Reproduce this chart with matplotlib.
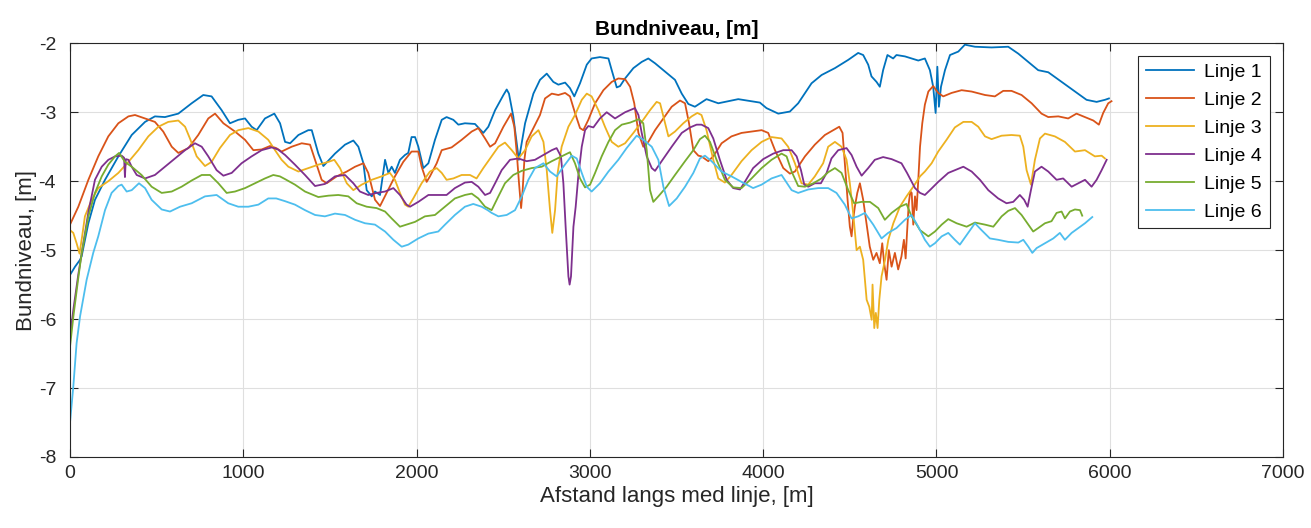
import matplotlib
matplotlib.use("Agg")
import matplotlib.pyplot as plt

plt.rcParams['font.family'] = ['Liberation Sans', 'DejaVu Sans']
plt.rcParams['axes.unicode_minus'] = False

# (afstand [m], bundniveau [m]) for hver linje
linje1 = [(0, -5.36), (29, -5.24), (58, -5.14), (67, -5.09), (106, -4.61), (144, -4.27), (202, -3.98),
          (279, -3.64), (356, -3.33), (433, -3.14), (490, -3.06), (548, -3.07), (625, -3.02), (702, -2.87),
          (769, -2.75), (817, -2.77), (875, -2.97), (923, -3.16), (971, -3.11), (1010, -3.09), (1048, -3.21),
          (1077, -3.26), (1125, -3.09), (1179, -3.02), (1212, -3.16), (1241, -3.43), (1270, -3.45),
          (1318, -3.33), (1375, -3.26), (1395, -3.26), (1433, -3.60), (1462, -3.78), (1529, -3.60),
          (1587, -3.47), (1635, -3.41), (1664, -3.50), (1693, -3.74), (1712, -4.13), (1741, -4.22),
          (1760, -4.15), (1789, -4.20), (1818, -3.69), (1837, -3.88), (1856, -3.79), (1875, -3.88),
          (1904, -3.69), (1933, -3.62), (1952, -3.59), (1971, -3.36), (1991, -3.36), (2010, -3.50),
          (2039, -3.81), (2068, -3.74), (2106, -3.40), (2145, -3.11), (2173, -3.07), (2212, -3.11),
          (2241, -3.18), (2279, -3.16), (2337, -3.17), (2385, -3.30), (2414, -3.21), (2453, -2.97),
          (2501, -2.75), (2520, -2.67), (2533, -2.73), (2558, -3.06), (2578, -3.45), (2590, -3.69),
          (2626, -3.16), (2674, -2.73), (2712, -2.53), (2751, -2.44), (2789, -2.56), (2818, -2.60),
          (2857, -2.57), (2885, -2.65), (2910, -2.77), (2943, -2.58), (2982, -2.31), (3010, -2.22),
          (3058, -2.20), (3107, -2.22), (3126, -2.39), (3155, -2.64), (3174, -2.62), (3203, -2.51),
          (3251, -2.36), (3299, -2.27), (3337, -2.22), (3376, -2.29), (3434, -2.41), (3491, -2.53),
          (3530, -2.73), (3568, -2.88), (3606, -2.92), (3673, -2.81), (3741, -2.87), (3856, -2.81),
          (3981, -2.86), (4019, -2.94), (4087, -3.02), (4154, -2.99), (4202, -2.87), (4279, -2.58),
          (4337, -2.46), (4414, -2.36), (4491, -2.24), (4548, -2.14), (4577, -2.17), (4606, -2.31),
          (4625, -2.48), (4654, -2.56), (4673, -2.63), (4692, -2.39), (4717, -2.17), (4750, -2.22),
          (4769, -2.17), (4818, -2.19), (4895, -2.25), (4933, -2.22), (4962, -2.39), (4981, -2.63),
          (4995, -3.01), (5005, -2.34), (5014, -2.92), (5026, -2.63), (5049, -2.39), (5078, -2.17),
          (5126, -2.12), (5164, -2.02), (5222, -2.05), (5318, -2.06), (5414, -2.05), (5472, -2.15),
          (5530, -2.27), (5587, -2.39), (5645, -2.42), (5722, -2.56), (5799, -2.70), (5866, -2.82),
          (5924, -2.85), (5972, -2.82), (5995, -2.80)]

linje2 = [(0, -4.63), (48, -4.37), (106, -3.98), (163, -3.64), (221, -3.35), (279, -3.16), (337, -3.06),
          (375, -3.04), (433, -3.09), (490, -3.14), (538, -3.28), (587, -3.50), (625, -3.59), (683, -3.52),
          (740, -3.33), (798, -3.09), (837, -3.02), (885, -3.16), (952, -3.28), (1010, -3.40), (1058, -3.55),
          (1106, -3.54), (1154, -3.49), (1190, -3.52), (1221, -3.57), (1279, -3.50), (1337, -3.45),
          (1385, -3.47), (1414, -3.69), (1452, -3.98), (1481, -4.03), (1539, -3.93), (1597, -3.86),
          (1645, -3.79), (1693, -3.74), (1721, -3.88), (1760, -4.27), (1789, -4.36), (1827, -4.17),
          (1875, -3.93), (1923, -3.72), (1971, -3.57), (2010, -3.57), (2029, -3.79), (2058, -4.01),
          (2077, -3.93), (2116, -3.74), (2145, -3.55), (2202, -3.51), (2260, -3.40), (2318, -3.28),
          (2356, -3.23), (2395, -3.38), (2424, -3.50), (2453, -3.45), (2501, -3.21), (2545, -3.02),
          (2564, -3.21), (2578, -3.59), (2591, -4.03), (2603, -4.39), (2612, -4.13), (2622, -3.69),
          (2635, -3.43), (2664, -3.28), (2712, -3.04), (2741, -2.80), (2780, -2.73), (2818, -2.75),
          (2857, -2.72), (2885, -2.77), (2914, -3.01), (2943, -3.23), (2962, -3.26), (2991, -3.11),
          (3030, -2.87), (3078, -2.68), (3126, -2.56), (3164, -2.51), (3203, -2.52), (3232, -2.63),
          (3256, -2.87), (3280, -3.30), (3308, -3.50), (3337, -3.43), (3376, -3.26), (3424, -3.09),
          (3472, -2.92), (3520, -2.83), (3549, -2.87), (3572, -3.16), (3597, -3.55), (3626, -3.63),
          (3644, -3.64), (3683, -3.71), (3712, -3.64), (3760, -3.45), (3817, -3.35), (3875, -3.30),
          (3933, -3.28), (3991, -3.26), (4029, -3.30), (4068, -3.55), (4116, -3.81), (4154, -3.89),
          (4183, -3.86), (4241, -3.64), (4298, -3.47), (4356, -3.33), (4404, -3.26), (4439, -3.21),
          (4458, -3.30), (4471, -3.74), (4487, -4.27), (4500, -4.66), (4510, -4.80), (4519, -4.56),
          (4529, -4.37), (4543, -4.17), (4558, -4.03), (4577, -4.27), (4596, -4.61), (4615, -4.95),
          (4635, -5.14), (4654, -5.04), (4673, -5.19), (4687, -4.90), (4698, -5.19), (4712, -5.43),
          (4725, -5.00), (4741, -5.24), (4760, -5.04), (4779, -5.28), (4798, -5.09), (4812, -4.85),
          (4822, -5.12), (4830, -4.75), (4840, -4.32), (4849, -4.15), (4857, -4.17), (4866, -4.63),
          (4876, -4.22), (4885, -4.42), (4895, -3.98), (4905, -3.50), (4918, -3.16), (4933, -2.89),
          (4953, -2.70), (4981, -2.62), (5010, -2.72), (5039, -2.77), (5087, -2.72), (5145, -2.68),
          (5203, -2.70), (5280, -2.75), (5337, -2.77), (5385, -2.69), (5433, -2.69), (5491, -2.75),
          (5549, -2.87), (5606, -3.02), (5645, -3.07), (5703, -3.06), (5760, -3.09), (5808, -3.02),
          (5857, -3.07), (5905, -3.12), (5937, -3.18), (5962, -3.01), (5991, -2.87), (6010, -2.84)]

linje3 = [(0, -4.71), (19, -4.75), (38, -4.90), (55, -5.05), (70, -4.80), (86, -4.51), (125, -4.27),
          (163, -4.10), (221, -4.00), (279, -3.88), (337, -3.72), (394, -3.55), (452, -3.35), (510, -3.21),
          (567, -3.14), (625, -3.12), (664, -3.21), (692, -3.38), (731, -3.64), (779, -3.78), (817, -3.72),
          (865, -3.52), (923, -3.33), (971, -3.26), (1029, -3.23), (1087, -3.28), (1144, -3.40),
          (1183, -3.55), (1221, -3.69), (1260, -3.79), (1318, -3.86), (1375, -3.81), (1433, -3.76),
          (1491, -3.72), (1525, -3.69), (1558, -3.81), (1597, -4.03), (1635, -4.13), (1683, -4.05),
          (1741, -3.98), (1798, -3.93), (1846, -3.88), (1875, -3.98), (1904, -4.17), (1933, -4.34),
          (1952, -4.37), (1981, -4.25), (2029, -4.03), (2077, -3.86), (2116, -3.81), (2145, -3.88),
          (2173, -3.98), (2212, -3.96), (2260, -3.91), (2308, -3.91), (2346, -3.96), (2385, -3.81),
          (2433, -3.64), (2472, -3.50), (2510, -3.44), (2549, -3.55), (2587, -3.67), (2626, -3.55),
          (2664, -3.35), (2703, -3.26), (2732, -3.43), (2751, -3.84), (2770, -4.42), (2783, -4.75),
          (2799, -4.42), (2814, -3.88), (2837, -3.50), (2876, -3.21), (2914, -3.04), (2953, -2.82),
          (2982, -2.73), (3010, -2.77), (3049, -2.97), (3087, -3.21), (3126, -3.43), (3164, -3.50),
          (3203, -3.45), (3251, -3.30), (3299, -3.14), (3347, -2.97), (3385, -2.85), (3405, -2.87),
          (3424, -3.06), (3453, -3.35), (3491, -3.28), (3539, -3.16), (3587, -3.06), (3620, -3.01),
          (3644, -3.04), (3673, -3.26), (3712, -3.69), (3741, -3.96), (3779, -4.02), (3817, -3.91),
          (3875, -3.71), (3933, -3.55), (3991, -3.43), (4048, -3.36), (4106, -3.38), (4144, -3.50),
          (4183, -3.74), (4221, -4.03), (4260, -4.05), (4298, -3.93), (4346, -3.74), (4375, -3.50),
          (4414, -3.43), (4452, -3.50), (4481, -3.69), (4500, -4.03), (4519, -4.46), (4539, -5.00),
          (4558, -4.95), (4577, -5.14), (4597, -5.72), (4612, -5.82), (4626, -6.01), (4631, -5.50),
          (4641, -6.13), (4650, -5.91), (4660, -6.13), (4670, -5.72), (4683, -5.38), (4703, -5.14),
          (4722, -4.85), (4751, -4.61), (4789, -4.37), (4827, -4.22), (4866, -4.08), (4905, -3.93),
          (4933, -3.86), (4972, -3.74), (5010, -3.57), (5058, -3.40), (5106, -3.22), (5155, -3.14),
          (5203, -3.14), (5241, -3.21), (5280, -3.35), (5318, -3.39), (5376, -3.34), (5433, -3.33),
          (5481, -3.34), (5501, -3.50), (5520, -3.84), (5545, -4.05), (5568, -3.69), (5597, -3.38),
          (5626, -3.31), (5683, -3.35), (5741, -3.43), (5799, -3.57), (5857, -3.55), (5914, -3.64),
          (5953, -3.63), (5972, -3.67)]

linje4 = [(0, -6.25), (20, -5.85), (48, -5.35), (77, -4.90), (106, -4.45), (144, -3.98), (183, -3.79),
          (221, -3.69), (260, -3.64), (298, -3.63), (312, -3.66), (317, -3.94), (322, -3.68), (337, -3.69),
          (356, -3.79), (385, -3.91), (433, -3.96), (490, -3.91), (548, -3.79), (606, -3.67), (664, -3.55),
          (721, -3.45), (760, -3.50), (798, -3.64), (846, -3.84), (885, -3.92), (933, -3.88), (990, -3.74),
          (1048, -3.64), (1106, -3.55), (1164, -3.51), (1200, -3.54), (1241, -3.62), (1298, -3.76),
          (1356, -3.91), (1414, -4.07), (1471, -4.04), (1529, -3.93), (1587, -3.91), (1635, -4.03),
          (1673, -4.15), (1721, -4.20), (1769, -4.17), (1818, -4.15), (1866, -4.10), (1904, -4.20),
          (1942, -4.34), (1962, -4.37), (2010, -4.30), (2068, -4.20), (2125, -4.20), (2173, -4.20),
          (2221, -4.10), (2279, -4.02), (2318, -4.01), (2356, -4.08), (2395, -4.20), (2424, -4.17),
          (2453, -4.03), (2491, -3.84), (2539, -3.69), (2587, -3.67), (2635, -3.71), (2683, -3.69),
          (2732, -3.62), (2780, -3.55), (2808, -3.52), (2833, -3.64), (2847, -4.03), (2860, -4.66),
          (2876, -5.38), (2883, -5.50), (2891, -5.38), (2905, -4.66), (2918, -4.37), (2933, -3.93),
          (2953, -3.50), (2972, -3.26), (2991, -3.20), (3020, -3.22), (3058, -3.09), (3097, -3.00),
          (3145, -3.09), (3203, -3.00), (3260, -2.94), (3280, -3.04), (3299, -3.30), (3328, -3.64),
          (3357, -3.81), (3376, -3.85), (3414, -3.71), (3472, -3.50), (3530, -3.30), (3578, -3.22),
          (3616, -3.18), (3644, -3.18), (3683, -3.23), (3712, -3.38), (3750, -3.69), (3789, -3.98),
          (3827, -4.10), (3866, -4.12), (3894, -4.01), (3942, -3.81), (4000, -3.68), (4058, -3.60),
          (4116, -3.55), (4164, -3.55), (4193, -3.64), (4218, -3.84), (4237, -4.05), (4260, -4.08),
          (4298, -4.03), (4333, -4.03), (4366, -3.88), (4394, -3.67), (4433, -3.55), (4481, -3.52),
          (4510, -3.62), (4539, -3.79), (4568, -3.92), (4606, -3.81), (4644, -3.69), (4692, -3.65),
          (4741, -3.68), (4798, -3.74), (4830, -3.88), (4876, -4.10), (4905, -4.17), (4933, -4.20),
          (4962, -4.13), (5010, -4.01), (5068, -3.88), (5106, -3.84), (5155, -3.79), (5203, -3.86),
          (5251, -3.98), (5299, -4.13), (5356, -4.25), (5404, -4.32), (5443, -4.30), (5481, -4.20),
          (5506, -4.27), (5526, -4.37), (5545, -4.13), (5568, -3.86), (5606, -3.79), (5645, -3.86),
          (5693, -3.98), (5731, -3.96), (5780, -4.08), (5818, -4.03), (5857, -3.98), (5895, -4.08),
          (5924, -3.98), (5953, -3.84), (5982, -3.69)]

linje5 = [(0, -6.40), (20, -5.95), (48, -5.40), (67, -5.05), (106, -4.51), (144, -4.17), (183, -3.93),
          (221, -3.76), (260, -3.64), (283, -3.59), (317, -3.72), (356, -3.79), (413, -3.91), (471, -4.08),
          (529, -4.17), (587, -4.15), (644, -4.08), (702, -3.99), (760, -3.91), (808, -3.91), (856, -4.03),
          (904, -4.17), (952, -4.15), (1010, -4.10), (1067, -4.03), (1125, -3.96), (1173, -3.91),
          (1211, -3.93), (1241, -3.97), (1298, -4.05), (1356, -4.15), (1433, -4.23), (1491, -4.21),
          (1548, -4.20), (1606, -4.22), (1654, -4.32), (1712, -4.37), (1769, -4.39), (1818, -4.44),
          (1856, -4.54), (1904, -4.66), (1942, -4.63), (1991, -4.59), (2048, -4.51), (2106, -4.49),
          (2164, -4.37), (2221, -4.25), (2279, -4.20), (2318, -4.18), (2356, -4.25), (2395, -4.37),
          (2433, -4.42), (2472, -4.22), (2510, -4.03), (2558, -3.91), (2607, -3.85), (2664, -3.81),
          (2722, -3.79), (2780, -3.71), (2837, -3.64), (2885, -3.58), (2914, -3.74), (2943, -3.96),
          (2972, -4.09), (3001, -4.05), (3030, -3.88), (3068, -3.64), (3107, -3.43), (3145, -3.26),
          (3184, -3.18), (3232, -3.15), (3283, -3.10), (3308, -3.16), (3328, -3.55), (3347, -4.13),
          (3366, -4.30), (3395, -4.22), (3443, -4.08), (3491, -3.91), (3549, -3.71), (3597, -3.55),
          (3635, -3.39), (3664, -3.34), (3693, -3.43), (3731, -3.69), (3779, -3.98), (3827, -4.09),
          (3875, -4.10), (3933, -3.96), (3991, -3.81), (4048, -3.69), (4106, -3.60), (4135, -3.64),
          (4164, -3.86), (4202, -4.07), (4241, -4.08), (4289, -4.03), (4337, -3.96), (4375, -3.87),
          (4414, -3.81), (4452, -3.88), (4491, -4.13), (4525, -4.32), (4568, -4.30), (4616, -4.30),
          (4664, -4.39), (4702, -4.56), (4741, -4.46), (4789, -4.37), (4827, -4.33), (4856, -4.51),
          (4905, -4.71), (4953, -4.80), (4991, -4.73), (5030, -4.63), (5068, -4.55), (5116, -4.61),
          (5174, -4.66), (5222, -4.60), (5280, -4.63), (5328, -4.66), (5376, -4.51), (5414, -4.43),
          (5453, -4.39), (5491, -4.49), (5530, -4.63), (5558, -4.73), (5587, -4.68), (5626, -4.61),
          (5664, -4.58), (5693, -4.46), (5722, -4.44), (5741, -4.54), (5770, -4.44), (5799, -4.41),
          (5828, -4.42), (5841, -4.50)]

linje6 = [(0, -7.50), (19, -6.98), (38, -6.35), (58, -5.96), (96, -5.43), (134, -5.04), (163, -4.80),
          (202, -4.42), (240, -4.17), (279, -4.07), (298, -4.05), (327, -4.15), (356, -4.13), (398, -4.03),
          (433, -4.10), (471, -4.27), (529, -4.41), (577, -4.44), (635, -4.37), (702, -4.32), (779, -4.22),
          (846, -4.20), (913, -4.32), (971, -4.37), (1029, -4.37), (1087, -4.34), (1144, -4.25),
          (1190, -4.25), (1241, -4.29), (1298, -4.34), (1356, -4.42), (1414, -4.49), (1471, -4.51),
          (1529, -4.47), (1587, -4.49), (1645, -4.56), (1702, -4.61), (1760, -4.63), (1818, -4.73),
          (1866, -4.85), (1914, -4.95), (1952, -4.92), (2010, -4.83), (2068, -4.76), (2125, -4.73),
          (2164, -4.63), (2221, -4.49), (2279, -4.37), (2327, -4.33), (2375, -4.37), (2410, -4.42),
          (2433, -4.46), (2472, -4.51), (2520, -4.49), (2568, -4.42), (2607, -4.22), (2645, -3.98),
          (2683, -3.81), (2732, -3.74), (2770, -3.86), (2808, -3.93), (2847, -3.79), (2895, -3.63),
          (2924, -3.67), (2953, -3.88), (2982, -4.08), (3010, -4.15), (3058, -4.03), (3107, -3.86),
          (3164, -3.69), (3212, -3.52), (3270, -3.34), (3308, -3.40), (3357, -3.50), (3395, -3.69),
          (3424, -4.08), (3457, -4.36), (3501, -4.25), (3549, -4.08), (3597, -3.88), (3635, -3.67),
          (3664, -3.63), (3702, -3.71), (3760, -3.86), (3817, -3.93), (3875, -4.01), (3942, -4.10),
          (3991, -4.05), (4048, -3.96), (4106, -3.91), (4164, -4.13), (4202, -4.17), (4260, -4.12),
          (4318, -4.10), (4375, -4.10), (4423, -4.17), (4471, -4.34), (4510, -4.54), (4548, -4.51),
          (4587, -4.46), (4635, -4.63), (4683, -4.83), (4721, -4.75), (4769, -4.68), (4818, -4.56),
          (4856, -4.49), (4895, -4.66), (4933, -4.85), (4962, -4.95), (4991, -4.90), (5030, -4.80),
          (5068, -4.75), (5106, -4.85), (5135, -4.92), (5183, -4.75), (5222, -4.61), (5260, -4.71),
          (5308, -4.83), (5356, -4.85), (5414, -4.88), (5472, -4.89), (5501, -4.85), (5530, -4.95),
          (5553, -5.04), (5578, -4.97), (5626, -4.90), (5674, -4.83), (5712, -4.75), (5741, -4.85),
          (5780, -4.75), (5818, -4.68), (5857, -4.61), (5899, -4.52)]

linjer = [linje1, linje2, linje3, linje4, linje5, linje6]
navne = ['Linje 1', 'Linje 2', 'Linje 3', 'Linje 4', 'Linje 5', 'Linje 6']
farver = ['#0072BD', '#D95319', '#EDB120', '#7E2F8E', '#77AC30', '#4DBEEE']

x_ticks = [0, 1000, 2000, 3000, 4000, 5000, 6000, 7000]
y_ticks = [-8, -7, -6, -5, -4, -3, -2]

fig = plt.figure(figsize=(13.11, 5.28), dpi=100)
ax = fig.add_axes([0.0534, 0.1345, 0.9253, 0.7835])

for data, navn, farve in zip(linjer, navne, farver):
    afstand = [p[0] for p in data]
    niveau = [p[1] for p in data]
    ax.plot(afstand, niveau, color=farve, lw=1.3, label=navn)

ax.set_xlim(0, 7000)
ax.set_ylim(-8, -2)
ax.set_xticks(x_ticks)
ax.set_yticks(y_ticks)
ax.grid(True, color='#DFDFDF', lw=0.8)
ax.set_axisbelow(True)

for side in ax.spines.values():
    side.set_color('#262626')
    side.set_linewidth(0.8)
ax.tick_params(direction='in', length=6, width=0.8, colors='#262626',
               top=True, right=True, labelsize=14)
ax.tick_params(axis='y', pad=10)
ax.tick_params(axis='x', pad=6)
for lbl in ax.get_xticklabels() + ax.get_yticklabels():
    lbl.set_color('#262626')

ax.set_xlabel('Afstand langs med linje, [m]', fontsize=16, color='#262626', labelpad=3)
ax.set_ylabel('Bundniveau, [m]', fontsize=16, color='#262626', labelpad=1)
ax.set_title('Bundniveau, [m]', fontsize=15, fontweight='bold', pad=6)

leg = ax.legend(loc='upper right', bbox_to_anchor=(0.989, 0.97), fontsize=14,
                frameon=True, fancybox=False, edgecolor='#262626', framealpha=1,
                handlelength=2.5, handletextpad=0.5, labelspacing=0.53, borderpad=0.4,
                borderaxespad=0)
leg.get_frame().set_linewidth(0.8)

fig.savefig('out.png', dpi=100)
